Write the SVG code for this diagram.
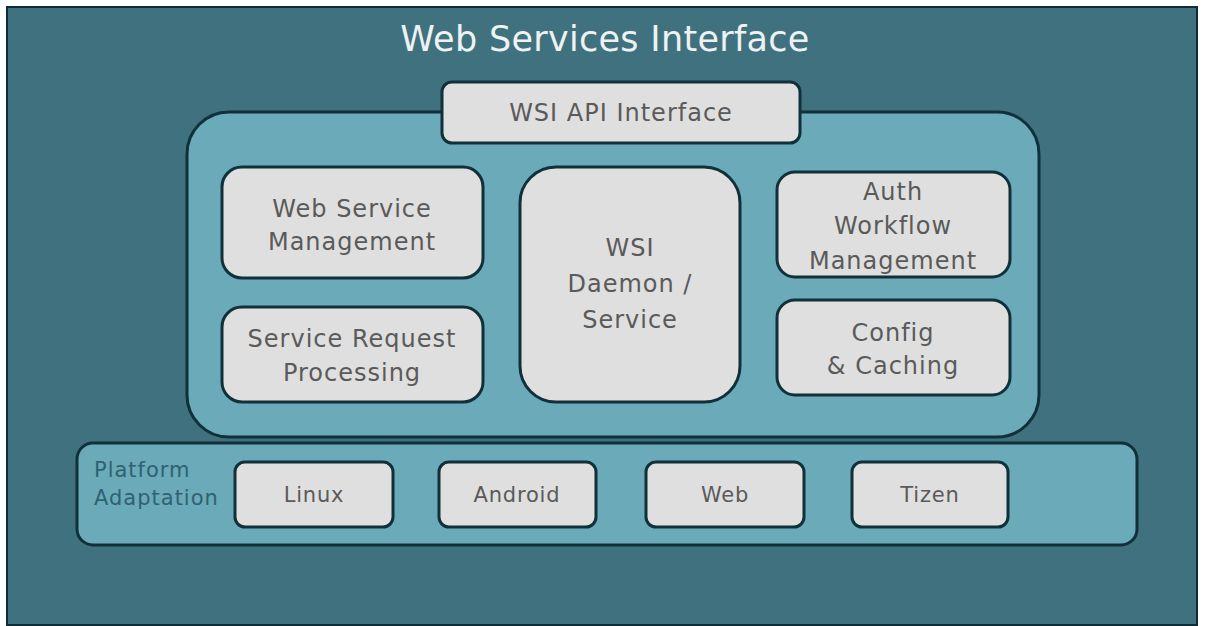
<svg xmlns="http://www.w3.org/2000/svg" width="1205" height="626" viewBox="0 0 1205 626">
<style>
.box{fill:#dfdfdf;stroke:#10303a;stroke-width:3}
.t{font-family:"DejaVu Sans","Liberation Sans",sans-serif;font-size:24px;letter-spacing:1px;fill:#5a5a5a;text-anchor:middle}
.s{font-size:21px;letter-spacing:0.8px}
.p{font-family:"DejaVu Sans","Liberation Sans",sans-serif;font-size:21px;letter-spacing:1px;fill:#2f6270}
</style>
<rect x="0" y="0" width="1205" height="626" fill="#ffffff"/>
<g id="panel">
<rect x="7" y="7" width="1190" height="618" fill="#40717e" stroke="#0f2d36" stroke-width="2"/>
<text x="605" y="51" font-family="DejaVu Sans,sans-serif" font-size="35" letter-spacing="0.3" fill="#eef2f3" text-anchor="middle">Web Services Interface</text>
</g>
<g id="container">
<rect x="187" y="112" width="852" height="325" rx="42" fill="#6aaab9" stroke="#10303a" stroke-width="3"/>
</g>
<g id="api">
<rect class="box" x="442" y="82" width="358" height="61" rx="10"/>
<text class="t" x="621" y="121">WSI API Interface</text>
</g>
<g id="wsm">
<rect class="box" x="222" y="167" width="261" height="111" rx="20"/>
<text class="t" x="352" y="217">Web Service</text>
<text class="t" x="352" y="250">Management</text>
</g>
<g id="srp">
<rect class="box" x="222" y="307" width="261" height="95" rx="20"/>
<text class="t" x="352" y="347">Service Request</text>
<text class="t" x="352" y="381">Processing</text>
</g>
<g id="daemon">
<rect class="box" x="520" y="167" width="220" height="235" rx="36"/>
<text class="t" x="630" y="256">WSI</text>
<text class="t" x="630" y="292">Daemon /</text>
<text class="t" x="630" y="328">Service</text>
</g>
<g id="auth">
<rect class="box" x="777" y="172" width="233" height="105" rx="18"/>
<text class="t" x="893" y="200">Auth</text>
<text class="t" x="893" y="234">Workflow</text>
<text class="t" x="893" y="269">Management</text>
</g>
<g id="config">
<rect class="box" x="777" y="300" width="233" height="95" rx="18"/>
<text class="t" x="893" y="341">Config</text>
<text class="t" x="893" y="374">&amp; Caching</text>
</g>
<g id="platform">
<rect x="77" y="443" width="1060" height="102" rx="16" fill="#6aaab9" stroke="#10303a" stroke-width="3"/>
<text class="p" x="94" y="477">Platform</text>
<text class="p" x="94" y="505">Adaptation</text>
</g>
<g id="linux">
<rect class="box" x="235" y="462" width="158" height="65" rx="10"/>
<text class="t s" x="314" y="502">Linux</text>
</g>
<g id="android">
<rect class="box" x="439" y="462" width="157" height="65" rx="10"/>
<text class="t s" x="517" y="502">Android</text>
</g>
<g id="web">
<rect class="box" x="646" y="462" width="158" height="65" rx="10"/>
<text class="t s" x="725" y="502">Web</text>
</g>
<g id="tizen">
<rect class="box" x="852" y="462" width="156" height="65" rx="10"/>
<text class="t s" x="930" y="502">Tizen</text>
</g>
<g id="connectors"></g>
</svg>
